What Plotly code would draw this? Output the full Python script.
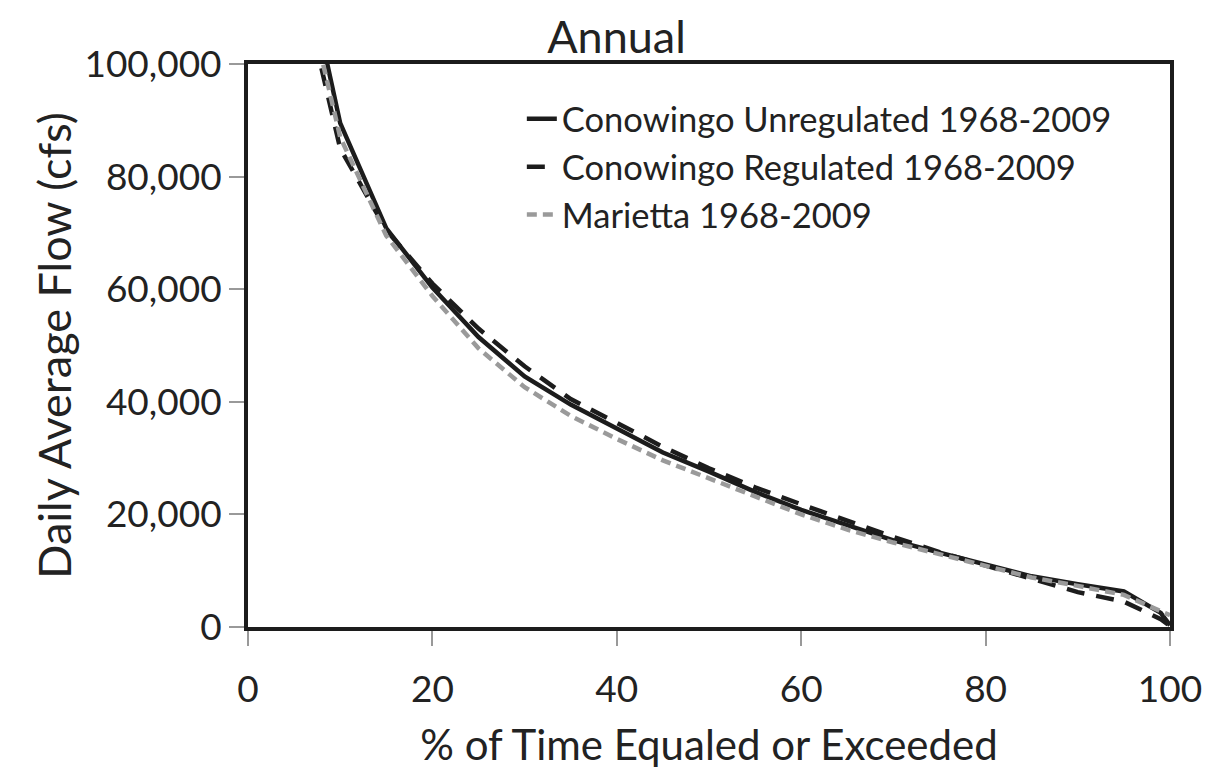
import plotly.graph_objects as go

pct = [5, 10, 15, 20, 25, 30, 35, 40, 45, 50, 55, 60, 65, 70, 75, 80, 85, 90, 95, 99, 100]
unregulated = [127000, 89500, 70800, 60300, 51500, 44500, 39500, 35300, 31000, 27600, 24000, 20800, 18000, 15400, 13200, 11100, 9000, 7600, 6300, 2500, 300]
regulated = [120000, 85000, 70500, 61000, 53000, 46300, 40500, 36300, 32000, 28200, 24800, 21800, 18800, 16000, 13300, 10900, 8500, 6200, 4500, 1400, 200]
marietta = [122000, 87000, 69500, 58800, 49500, 42600, 37500, 33400, 29600, 26300, 23200, 20000, 17300, 15000, 12900, 10700, 8800, 7300, 5700, 2800, 2100]

x_ticks = [0, 20, 40, 60, 80, 100]
y_ticks = [0, 20000, 40000, 60000, 80000, 100000]
y_tick_labels = ["0", "20,000", "40,000", "60,000", "80,000", "100,000"]

font_family = "Lato, 'Open Sans', sans-serif"

fig = go.Figure()
fig.add_trace(go.Scatter(x=pct, y=unregulated, mode="lines", name="Conowingo Unregulated 1968-2009",
                         line=dict(color="#1c1c1c", width=4.5)))
fig.add_trace(go.Scatter(x=pct, y=regulated, mode="lines", name="Conowingo Regulated 1968-2009",
                         line=dict(color="#1c1c1c", width=4.5, dash="18px,12px")))
fig.add_trace(go.Scatter(x=pct, y=marietta, mode="lines", name="Marietta 1968-2009",
                         line=dict(color="#9a9a9a", width=4.5, dash="10px,6px")))

fig.update_layout(
    width=1217, height=774,
    paper_bgcolor="white", plot_bgcolor="white",
    margin=dict(l=240, r=55, t=56, b=155, autoexpand=False),
    font=dict(family=font_family, color="#222222"),
    title=dict(text="Annual", x=0.5, xanchor="center", y=0.962, yanchor="middle",
               font=dict(size=45, family=font_family, color="#222222")),
    legend=dict(x=0.297, y=0.954, xanchor="left", yanchor="top", bgcolor="rgba(0,0,0,0)",
                font=dict(size=34.5, family=font_family, color="#222222"), tracegroupgap=0),
    showlegend=True,
)
fig.update_xaxes(
    range=[0, 100], tickvals=x_ticks, ticktext=[str(v) for v in x_ticks],
    showgrid=False, zeroline=False, automargin=False,
    showline=True, linecolor="#1c1c1c", linewidth=4, mirror=True,
    ticks="outside", ticklen=15, tickwidth=2, tickcolor="#999999",
    tickfont=dict(size=37), ticklabelstandoff=12,
    title=dict(text="% of Time Equaled or Exceeded", font=dict(size=42), standoff=22),
)
fig.update_yaxes(
    range=[0, 100000], tickvals=y_ticks, ticktext=y_tick_labels, ticksuffix="\u00a0\u00a0\u00a0",
    showgrid=False, zeroline=False, automargin=False,
    showline=True, linecolor="#1c1c1c", linewidth=4, mirror=True,
    ticks="outside", ticklen=15, tickwidth=2, tickcolor="#999999",
    tickfont=dict(size=37),
    title=dict(text="Daily Average Flow (cfs)", font=dict(size=45), standoff=0),
)

fig.write_html("out.html")
